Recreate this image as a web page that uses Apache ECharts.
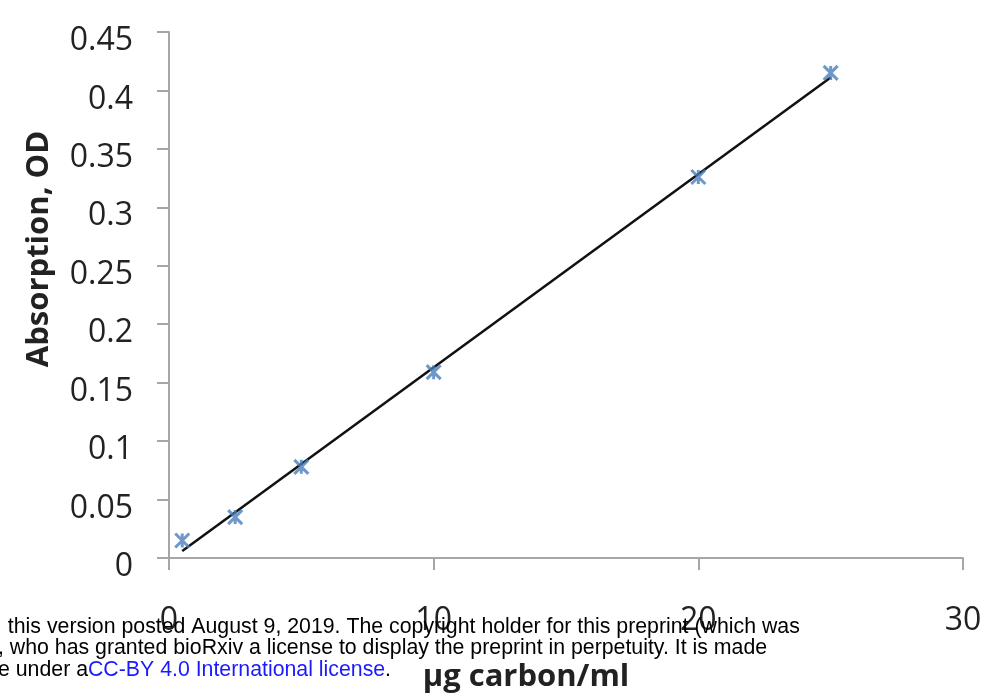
<!DOCTYPE html>
<html><head><meta charset="utf-8">
<script src="https://cdn.jsdelivr.net/npm/echarts@6/dist/echarts.min.js"></script>
<style>html,body{margin:0;padding:0;background:#fff}#c{width:988px;height:698px}</style>
</head><body><div id="c"></div>
<script>
var concentration = [0.5, 2.5, 5, 10, 20, 25];
var absorption = [0.015, 0.035, 0.078, 0.159, 0.326, 0.415];
var trendX = [0.5, 25];
var trendY = [0.006, 0.411];
var yTicks = [0, 0.05, 0.1, 0.15, 0.2, 0.25, 0.3, 0.35, 0.4, 0.45];
var xTicks = [0, 10, 20, 30];
var yTitle = 'Absorption, OD';
var xTitle = 'µg carbon/ml';
var watermark = [
  '; this version posted August 9, 2019. The copyright holder for this preprint (which was',
  ', who has granted bioRxiv a license to display the preprint in perpetuity. It is made'
];

var chart = echarts.init(document.getElementById('c'));
var font = '"Open Sans", sans-serif';
var wmFont = '21.3px "Liberation Sans", Arial, sans-serif';
var axisGray = '#a6a6a6';
chart.setOption({
  animation: false,
  grid: {left: 169, top: 32, right: 25, bottom: 138, containLabel: false},
  xAxis: {
    type: 'value', min: xTicks[0], max: xTicks[xTicks.length-1], interval: 10,
    splitLine: {show: false},
    axisLine: {lineStyle: {color: axisGray, width: 2}},
    axisTick: {show: true, length: 12, lineStyle: {color: axisGray, width: 2}},
    axisLabel: {fontFamily: font, fontSize: 32, color: '#222', margin: 47},
    name: xTitle, nameLocation: 'middle', nameGap: 104,
    nameTextStyle: {fontFamily: font, fontSize: 31, fontWeight: 'bold', color: '#222', padding: [0, 80, 0, 0]}
  },
  yAxis: {
    type: 'value', min: yTicks[0], max: yTicks[yTicks.length-1], interval: 0.05,
    splitLine: {show: false},
    axisLine: {lineStyle: {color: axisGray, width: 2}},
    axisTick: {show: true, length: 12, lineStyle: {color: axisGray, width: 2}},
    axisLabel: {fontFamily: font, fontSize: 32, color: '#222', margin: 36, verticalAlign: 'top', lineHeight: 18},
    name: yTitle, nameLocation: 'middle', nameGap: 114,
    nameTextStyle: {fontFamily: font, fontSize: 31, fontWeight: 'bold', color: '#222', padding: [0, 0, 0, 92]}
  },
  series: [
    {
      type: 'line', data: trendX.map(function(x, i){return [x, trendY[i]];}),
      symbol: 'none', lineStyle: {color: '#111', width: 2.5}, z: 2
    },
    {
      type: 'scatter', data: concentration.map(function(x, i){return [x, absorption[i]];}),
      symbol: 'path://M0,0L10,10M10,0L0,10M5,0L5,10', symbolSize: 14,
      itemStyle: {color: 'rgba(0,0,0,0)', borderColor: '#4a7ebb', borderWidth: 3}, z: 3
    }
  ],
  graphic: [
    {type: 'text', left: -4, top: 617, z: 100, style: {text: watermark[0], font: wmFont, fill: '#000'}},
    {type: 'text', left: -2, top: 638, z: 100, style: {text: watermark[1], font: wmFont, fill: '#000'}},
    {type: 'text', left: -2, top: 660, z: 100, style: {
      text: 'e under a{b|CC-BY 4.0 International license}.',
      font: wmFont, fill: '#000',
      rich: {b: {fill: '#1a1aff', font: wmFont}}
    }}
  ]
});
</script></body></html>
